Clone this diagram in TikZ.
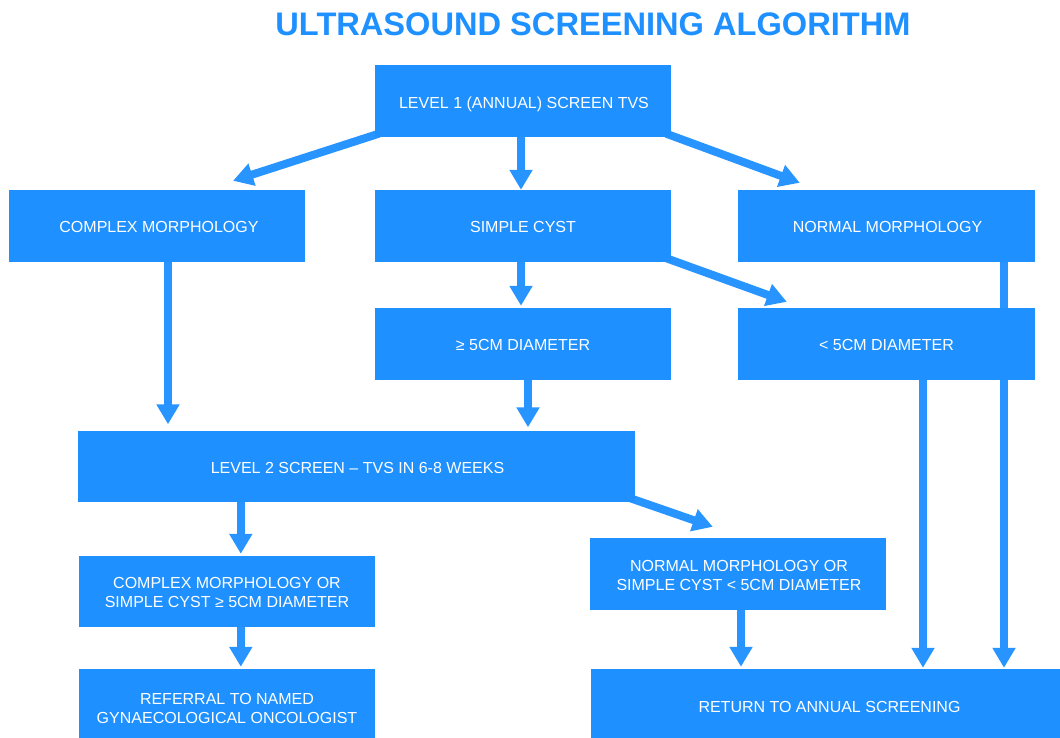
\documentclass[tikz,border=0pt]{standalone}
\usepackage{fontspec}
\setmainfont{Liberation Sans}
\usetikzlibrary{arrows.meta,calc}
\definecolor{flowblue}{RGB}{30,144,255}
\definecolor{arrowblue}{RGB}{40,148,255}
\pgfdeclarelayer{paper}
\pgfdeclarelayer{links}
\pgfsetlayers{paper,links,main}
\begin{document}
\begin{tikzpicture}[x=1bp,y=-1bp,
  box/.style={fill=flowblue, inner sep=0pt,
    minimum width=296bp, minimum height=71bp},
  txt/.style={text=white, align=center, inner sep=0pt,
    font=\fontsize{16bp}{19bp}\selectfont},
  arr/.style={draw=arrowblue, line width=8bp,
    -{Triangle[width=22bp,length=20bp]}}]
\useasboundingbox (0,0) rectangle (1060,738);
\begin{pgfonlayer}{paper}
\fill[white] (0,0) rectangle (1060,738);
\end{pgfonlayer}

% title
\node[text=flowblue, inner sep=0pt, font=\bfseries\fontsize{32.6bp}{38bp}\selectfont]
  (title) at (593,24) {ULTRASOUND SCREENING ALGORITHM};

% boxes
\node[box, minimum height=71bp] (l1) at (523,101) {};
\node[box, minimum height=72bp] (cm) at (157,226) {};
\node[box, minimum height=72bp] (sc) at (523,226) {};
\node[box, minimum height=72bp, minimum width=297bp] (nm) at (886.5,226) {};
\node[box, minimum height=72bp] (ge) at (523,344) {};
\node[box, minimum height=72bp, minimum width=297bp] (lt) at (886.5,344) {};
\node[box, minimum width=557bp] (l2) at (356.5,466) {};
\node[box] (co) at (227,591.5) {};
\node[box, minimum height=72bp] (no) at (738,574) {};
\node[box, minimum height=70bp] (rf) at (227,704) {};
\node[box, minimum height=70bp, minimum width=469bp] (rt) at (825.5,704) {};

% box texts
\node[txt] (l1-t) at ($(l1.center)+(1,3.5)$) {LEVEL 1 (ANNUAL) SCREEN TVS};
\node[txt] (cm-t) at ($(cm.center)+(2,1)$) {COMPLEX MORPHOLOGY};
\node[txt] (sc-t) at ($(sc.center)+(0,1)$) {SIMPLE CYST};
\node[txt] (nm-t) at ($(nm.center)+(1,1)$) {NORMAL MORPHOLOGY};
\node[txt] (ge-t) at ($(ge.center)+(0,1)$) {≥ 5CM DIAMETER};
\node[txt] (lt-t) at ($(lt.center)+(0,1)$) {< 5CM DIAMETER};
\node[txt] (l2-t) at ($(l2.center)+(1,2)$) {LEVEL 2 SCREEN – TVS IN 6-8 WEEKS};
\node[txt] (co-t) at ($(co.center)+(0,1)$) {COMPLEX MORPHOLOGY OR\\SIMPLE CYST ≥ 5CM DIAMETER};
\node[txt] (no-t) at ($(no.center)+(1,1.5)$) {NORMAL MORPHOLOGY OR\\SIMPLE CYST < 5CM DIAMETER};
\node[txt] (rf-t) at ($(rf.center)+(0,4)$) {REFERRAL TO NAMED\\GYNAECOLOGICAL ONCOLOGIST};
\node[txt] (rt-t) at ($(rt.center)+(4,3)$) {RETURN TO ANNUAL SCREENING};

% connectors, running behind the boxes
\begin{pgfonlayer}{links}
% slanted ones
\draw[arr] ($(l1.south west)+(4,-3)$) -- ($(cm.north)+(76,-9)$);
\draw[arr] ($(l1.south east)+(-5,-3)$) -- ($(nm.north west)+(62,-7)$);
\draw[arr] ($(sc.south east)+(-5,-4)$) -- ($(lt.north west)+(49,-6)$);
\draw[arr] ($(l2.south east)+(-18,-8)$) -- ($(no.north west)+(123,-11)$);
% vertical ones
\draw[arr] ($(l1.south)+(-2,-2)$) coordinate (s1) -- (s1 |- sc.north);
\draw[arr] ($(cm.south)+(11,-2)$) coordinate (s2) -- ($(s2 |- l2.north)+(0,-6)$);
\draw[arr] ($(sc.south)+(-2,-2)$) coordinate (s3) -- ($(s3 |- ge.north)+(0,-2)$);
\draw[arr] ($(ge.south)+(5,-2)$) coordinate (s4) -- ($(s4 |- l2.north)+(0,-3)$);
\draw[arr] ($(nm.south)+(117.5,-2)$) coordinate (s5) -- ($(s5 |- rt.north)+(0,-1)$);
\draw[arr] ($(lt.south)+(36.5,-2)$) coordinate (s6) -- ($(s6 |- rt.north)+(0,-1)$);
\draw[arr] ($(l2.south west)+(163,-2)$) coordinate (s7) -- ($(s7 |- co.north)+(0,-2)$);
\draw[arr] ($(co.south west)+(162,-2)$) coordinate (s8) -- ($(s8 |- rf.north)+(0,-2)$);
\draw[arr] ($(no.south)+(3,-2)$) coordinate (s9) -- ($(s9 |- rt.north)+(0,-2)$);
\end{pgfonlayer}
\end{tikzpicture}
\end{document}
